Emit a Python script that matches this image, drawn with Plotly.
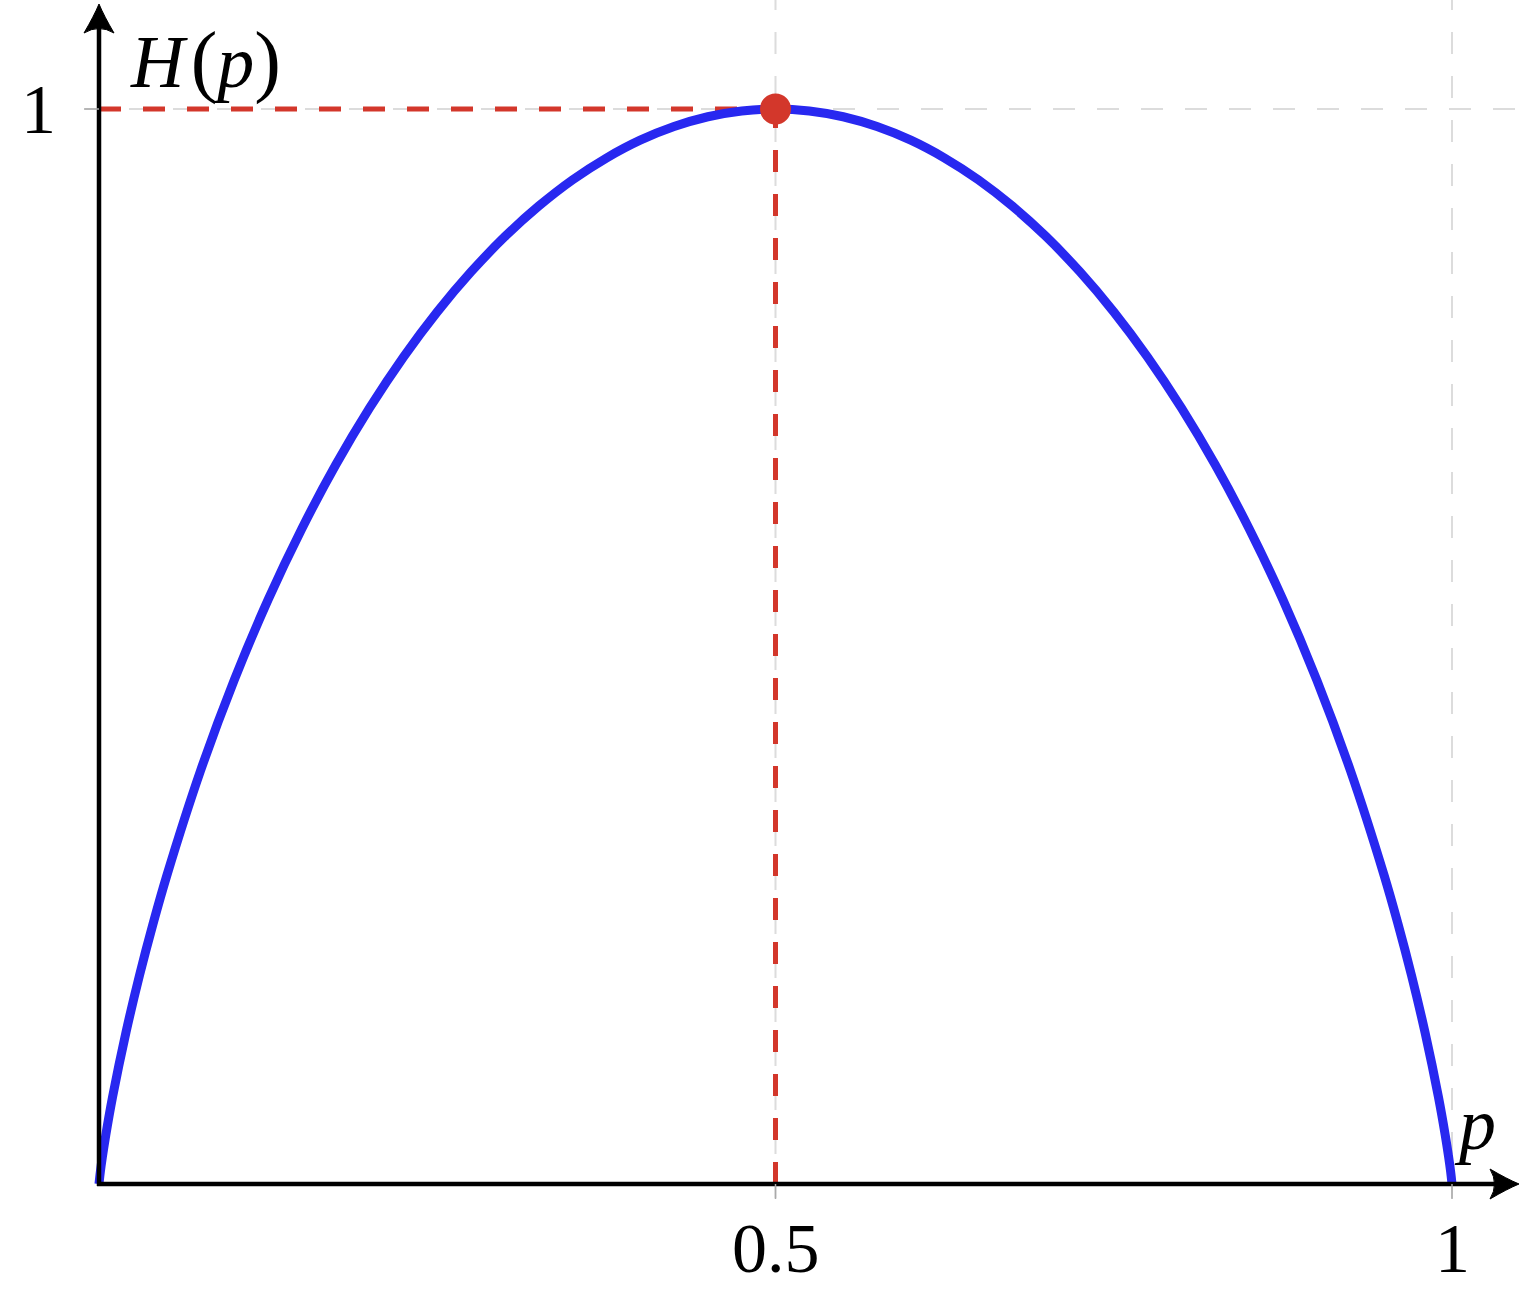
import plotly.graph_objects as go

# ---- data (binary entropy curve) ----
p_values = [0.0, 0.001, 0.0025, 0.005, 0.01, 0.02, 0.03, 0.04, 0.05, 0.075, 0.1, 0.125, 0.15,
            0.175, 0.2, 0.225, 0.25, 0.275, 0.3, 0.325, 0.35, 0.375, 0.4, 0.425, 0.45,
            0.475, 0.5, 0.525, 0.55, 0.575, 0.6, 0.625, 0.65, 0.675, 0.7, 0.725, 0.75,
            0.775, 0.8, 0.825, 0.85, 0.875, 0.9, 0.925, 0.95, 0.96, 0.97, 0.98, 0.99,
            0.995, 0.9975, 0.999, 1.0]
h_values = [0.0, 0.0114, 0.0252, 0.0454, 0.0808, 0.1414, 0.1944, 0.2423, 0.2864, 0.3843, 0.4690,
            0.5436, 0.6098, 0.6690, 0.7219, 0.7692, 0.8113, 0.8485, 0.8813, 0.9097, 0.9341,
            0.9544, 0.9710, 0.9837, 0.9928, 0.9982, 1.0, 0.9982, 0.9928, 0.9837, 0.9710,
            0.9544, 0.9341, 0.9097, 0.8813, 0.8485, 0.8113, 0.7692, 0.7219, 0.6690, 0.6098,
            0.5436, 0.4690, 0.3843, 0.2864, 0.2423, 0.1944, 0.1414, 0.0808, 0.0454, 0.0252,
            0.0114, 0.0]
max_point = [0.5, 1.0]
x_ticks = [0.5, 1]
x_tick_labels = ["0.5", "1"]
y_ticks = [1]
y_tick_labels = ["1"]

# ---- geometry helpers (pixel -> data for decorations) ----
W, H = 1522, 1295
OX, OY = 99, 1184          # pixel of origin
SX, SY = 1353, 1075        # pixels per unit


def X(px):
    return (px - OX) / SX


def Y(py):
    return (OY - py) / SY


BLUE = "#2828F0"
RED = "#D3372B"
GRAY = "#DCDCDC"

fig = go.Figure()

# gray dashed grid lines
for xv in x_ticks:
    fig.add_shape(type="line", x0=xv, x1=xv, y0=Y(1198), y1=Y(0),
                  line=dict(color=GRAY, width=2, dash="22px,22px"), layer="below")
for yv in y_ticks:
    fig.add_shape(type="line", x0=X(85), x1=X(W), y0=yv, y1=yv,
                  line=dict(color=GRAY, width=2, dash="22px,22px"), layer="below")

# red dashed guide lines
fig.add_trace(go.Scatter(x=[max_point[0], max_point[0]], y=[0, max_point[1]], mode="lines",
                         line=dict(color=RED, width=5, dash="22px,22px"), hoverinfo="skip"))
fig.add_trace(go.Scatter(x=[0, max_point[0]], y=[max_point[1], max_point[1]], mode="lines",
                         line=dict(color=RED, width=5, dash="22px,22px"), hoverinfo="skip"))

# entropy curve
fig.add_trace(go.Scatter(x=p_values, y=h_values, mode="lines", line=dict(color=BLUE, width=9),
                         line_shape="spline"))

# max point
fig.add_trace(go.Scatter(x=[max_point[0]], y=[max_point[1]], mode="markers",
                         marker=dict(color=RED, size=31, line=dict(width=0))))

# axes lines
fig.add_shape(type="line", x0=X(97), x1=X(1500), y0=0, y1=0, line=dict(color="black", width=4.5))
fig.add_shape(type="line", x0=0, x1=0, y0=Y(1186), y1=Y(20), line=dict(color="black", width=4.5))


# arrowheads
def arrow_right(tx, ty):
    pts = [(tx, ty), (tx - 29, ty - 15), (tx - 29, ty + 15)]
    (a, b), (c, d), (g, h) = [(X(u), Y(v)) for u, v in pts]
    return (f"M {a},{b} Q {X(tx-12)},{Y(ty-5)} {c},{d} Q {X(tx-20)},{Y(ty)} {g},{h} "
            f"Q {X(tx-12)},{Y(ty+5)} {a},{b} Z")


def arrow_up(tx, ty):
    pts = [(tx, ty), (tx - 15, ty + 29), (tx + 15, ty + 29)]
    (a, b), (c, d), (g, h) = [(X(u), Y(v)) for u, v in pts]
    return (f"M {a},{b} Q {X(tx-5)},{Y(ty+12)} {c},{d} Q {X(tx)},{Y(ty+20)} {g},{h} "
            f"Q {X(tx+5)},{Y(ty+12)} {a},{b} Z")


fig.add_shape(type="path", path=arrow_right(1519, OY), fillcolor="black", line=dict(color="black", width=1))
fig.add_shape(type="path", path=arrow_up(OX, 4), fillcolor="black", line=dict(color="black", width=1))

# small ticks
for xv in x_ticks:
    fig.add_shape(type="line", x0=xv, x1=xv, y0=Y(1184), y1=Y(1199), line=dict(color="#AAAAAA", width=1.5))
for yv in y_ticks:
    fig.add_shape(type="line", x0=X(84), x1=X(99), y0=yv, y1=yv, line=dict(color="#AAAAAA", width=1.5))

FONT = "Liberation Serif"
# tick labels
for xv, lab in zip(x_ticks, x_tick_labels):
    fig.add_annotation(x=xv, y=Y(1248), text=lab, showarrow=False, xanchor="center", yanchor="middle",
                       font=dict(family=FONT, size=70, color="black"))
for yv, lab in zip(y_ticks, y_tick_labels):
    fig.add_annotation(x=X(38), y=yv, text=lab, showarrow=False, xanchor="center", yanchor="middle",
                       font=dict(family=FONT, size=70, color="black"))

# axis labels
fig.add_annotation(x=X(128), y=Y(60), showarrow=False, xanchor="left", yanchor="middle",
                   text="<i>H</i>&#8202;<span style='font-size:80px'>(</span><i>p</i>"
                        "<span style='font-size:80px'>)</span>",
                   font=dict(family=FONT, size=74, color="black"))
fig.add_annotation(x=X(1452), y=Y(1124), text="<i>p</i>", showarrow=False, xanchor="left",
                   yanchor="middle", font=dict(family=FONT, size=74, color="black"))

fig.update_layout(
    width=W, height=H, margin=dict(l=0, r=0, t=0, b=0),
    plot_bgcolor="white", paper_bgcolor="white", showlegend=False,
    xaxis=dict(range=[X(0), X(W)], visible=False, fixedrange=True),
    yaxis=dict(range=[Y(H), Y(0)], visible=False, fixedrange=True),
)

fig.write_html("out.html", config={"displayModeBar": False},
               post_script="document.body.style.margin='0';document.body.style.overflow='hidden';")
